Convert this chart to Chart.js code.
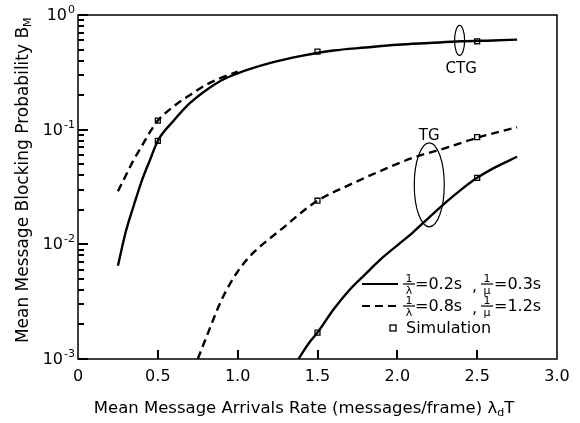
<!DOCTYPE html>
<html>
<head>
<meta charset="utf-8">
<script src="https://cdn.jsdelivr.net/npm/chart.js@4.4.1/dist/chart.umd.min.js"></script>
<style>
  html, body { margin: 0; padding: 0; background: #fff; }
  #wrap { width: 580px; height: 423px; }
</style>
</head>
<body>
<div id="wrap"><canvas id="chart" width="580" height="423"></canvas></div>
<script>
// CTG curves
const ctgSolidX = [0.25, 0.3, 0.35, 0.4, 0.45, 0.5, 0.6, 0.7, 0.8, 0.9, 1.0, 1.2, 1.4, 1.6, 1.8, 2.0, 2.2, 2.4, 2.6, 2.75];
const ctgSolidY = [0.0065, 0.013, 0.022, 0.036, 0.054, 0.08, 0.12, 0.17, 0.22, 0.27, 0.31, 0.38, 0.44, 0.49, 0.52, 0.55, 0.57, 0.59, 0.60, 0.61];
const ctgDashX = [0.25, 0.3, 0.35, 0.4, 0.45, 0.5, 0.6, 0.7, 0.8, 0.9, 1.0];
const ctgDashY = [0.029, 0.04, 0.055, 0.072, 0.095, 0.12, 0.16, 0.2, 0.245, 0.285, 0.32];
// TG curves
const tgDashX = [0.75, 0.8, 0.9, 1.0, 1.1, 1.2, 1.3, 1.4, 1.5, 1.7, 1.9, 2.1, 2.3, 2.5, 2.75];
const tgDashY = [0.001, 0.0015, 0.0033, 0.0058, 0.0085, 0.0112, 0.0145, 0.019, 0.024, 0.033, 0.044, 0.057, 0.069, 0.085, 0.105];
const tgSolidX = [1.38, 1.45, 1.5, 1.6, 1.7, 1.8, 1.9, 2.0, 2.1, 2.2, 2.3, 2.4, 2.5, 2.6, 2.75];
const tgSolidY = [0.001, 0.0014, 0.0017, 0.0027, 0.004, 0.0055, 0.0075, 0.0098, 0.0128, 0.0172, 0.023, 0.03, 0.038, 0.046, 0.058];
// simulation squares
const simX = [0.5, 0.5, 1.5, 2.5, 1.5, 2.5, 1.5, 2.5];
const simY = [0.08, 0.12, 0.48, 0.59, 0.024, 0.086, 0.0017, 0.038];
// axis ticks
const xTicks = [0, 0.5, 1.0, 1.5, 2.0, 2.5, 3.0];
const yMajor = [1, 0.1, 0.01, 0.001];
const yExp = ['0', '-1', '-2', '-3'];
const yMinorMantissa = [2, 3, 4, 5, 6, 7, 8, 9];

const FONT = '"DejaVu Sans", sans-serif';

function pts(xs, ys) {
  return xs.map((x, i) => ({ x: x, y: ys[i] }));
}

function lineSet(xs, ys, dashed) {
  return {
    data: pts(xs, ys),
    borderColor: '#000',
    borderWidth: 2.4,
    borderDash: dashed ? [8, 5] : [],
    pointRadius: 0,
    fill: false,
    tension: 0.4,
    cubicInterpolationMode: 'monotone'
  };
}

function fraction(ctx, x, y, den) {
  ctx.font = '11px ' + FONT;
  ctx.textAlign = 'center';
  ctx.textBaseline = 'alphabetic';
  ctx.fillText('1', x, y - 2);
  ctx.fillText(den, x, y + 10);
  ctx.beginPath();
  ctx.lineWidth = 1.2;
  ctx.moveTo(x - 6, y);
  ctx.lineTo(x + 6, y);
  ctx.stroke();
}

const decor = {
  id: 'decor',
  afterDraw(chart) {
    const ctx = chart.ctx;
    const a = chart.chartArea;
    const xs = chart.scales.x;
    const ys = chart.scales.y;
    ctx.save();
    ctx.setLineDash([]);
    ctx.strokeStyle = '#000';
    ctx.fillStyle = '#000';

    // frame
    ctx.lineWidth = 1.5;
    ctx.strokeRect(a.left, a.top, a.right - a.left, a.bottom - a.top);

    // y ticks (inside): majors then minors
    yMajor.forEach(v => {
      const py = Math.round(ys.getPixelForValue(v));
      ctx.fillRect(a.left, py - 1, 10, 2);
    });
    yMajor.slice(1).forEach(base => {
      yMinorMantissa.forEach(m => {
        const py = Math.round(ys.getPixelForValue(m * base));
        ctx.fillRect(a.left, py - 1, 6, 2);
      });
    });
    // x ticks (inside)
    xTicks.slice(1, -1).forEach(v => {
      const px = Math.round(xs.getPixelForValue(v));
      ctx.fillRect(px - 1, a.bottom - 9, 2, 9);
    });

    // y tick labels: 10 with exponent
    ctx.textBaseline = 'alphabetic';
    yMajor.forEach((v, i) => {
      const py = ys.getPixelForValue(v);
      ctx.font = '11px ' + FONT;
      ctx.textAlign = 'right';
      const ew = ctx.measureText(yExp[i]).width;
      ctx.fillText(yExp[i], 75, py - 2);
      ctx.font = '16px ' + FONT;
      ctx.fillText('10', 75 - ew - 1, py + 5);
    });

    // axis titles
    ctx.textAlign = 'left';
    ctx.font = '16.5px ' + FONT;
    const xt = 'Mean Message Arrivals Rate (messages/frame) ';
    const w1 = ctx.measureText(xt + 'λT').width + 7;
    let tx = 304 - w1 / 2;
    const ty = 413;
    ctx.fillText(xt + 'λ', tx, ty);
    tx += ctx.measureText(xt + 'λ').width;
    ctx.font = '11px ' + FONT;
    ctx.fillText('d', tx, ty + 3);
    tx += ctx.measureText('d').width;
    ctx.font = '16.5px ' + FONT;
    ctx.fillText('T', tx, ty);

    ctx.save();
    ctx.translate(28, 180);
    ctx.rotate(-Math.PI / 2);
    ctx.font = '17px ' + FONT;
    const yt = 'Mean Message Blocking Probability B';
    const tw = ctx.measureText(yt).width;
    ctx.fillText(yt, -(tw + 10) / 2, 0);
    ctx.font = '11px ' + FONT;
    ctx.fillText('M', -(tw + 10) / 2 + tw, 3);
    ctx.restore();

    // ellipses for CTG / TG
    ctx.lineWidth = 1.2;
    ctx.beginPath();
    ctx.ellipse(xs.getPixelForValue(2.39), ys.getPixelForValue(0.6), 5, 15, 0, 0, Math.PI * 2);
    ctx.stroke();
    ctx.beginPath();
    ctx.ellipse(xs.getPixelForValue(2.2), ys.getPixelForValue(0.033), 15, 42, 0, 0, Math.PI * 2);
    ctx.stroke();
    ctx.font = '15px ' + FONT;
    ctx.textAlign = 'center';
    ctx.textBaseline = 'middle';
    ctx.fillText('CTG', xs.getPixelForValue(2.4), 69);
    ctx.fillText('TG', xs.getPixelForValue(2.2), 136);

    // legend
    const lx0 = 362, lx1 = 398;
    const rows = [284, 306, 328];
    ctx.lineWidth = 2;
    ctx.beginPath();
    ctx.moveTo(lx0, rows[0]); ctx.lineTo(lx1, rows[0]); ctx.stroke();
    ctx.setLineDash([8, 5]);
    ctx.beginPath();
    ctx.moveTo(lx0, rows[1]); ctx.lineTo(lx1, rows[1]); ctx.stroke();
    ctx.setLineDash([]);
    const legendText = [['=0.2s', '=0.3s'], ['=0.8s', '=1.2s']];
    legendText.forEach((pair, i) => {
      const y = rows[i];
      fraction(ctx, 409, y, 'λ');
      ctx.font = '16px ' + FONT;
      ctx.textAlign = 'left';
      ctx.textBaseline = 'middle';
      ctx.fillText(pair[0], 415, y + 1);
      ctx.fillText(',', 472, y + 3);
      fraction(ctx, 487, y, 'μ');
      ctx.font = '16px ' + FONT;
      ctx.textAlign = 'left';
      ctx.textBaseline = 'middle';
      ctx.fillText(pair[1], 494, y + 1);
    });
    ctx.lineWidth = 1.3;
    ctx.fillStyle = '#fff';
    ctx.fillRect(390, rows[2] - 3, 6, 6);
    ctx.strokeRect(390, rows[2] - 3, 6, 6);
    ctx.fillStyle = '#000';
    ctx.font = '16px ' + FONT;
    ctx.textAlign = 'left';
    ctx.fillText('Simulation', 406, rows[2] + 1);

    ctx.restore();
  }
};

new Chart(document.getElementById('chart').getContext('2d'), {
  type: 'line',
  data: {
    datasets: [
      lineSet(ctgSolidX, ctgSolidY, false),
      lineSet(ctgDashX, ctgDashY, true),
      lineSet(tgDashX, tgDashY, true),
      lineSet(tgSolidX, tgSolidY, false),
      {
        data: pts(simX, simY),
        showLine: false,
        pointStyle: 'rect',
        pointRadius: 3.5,
        pointBorderWidth: 1.3,
        pointBorderColor: '#000',
        pointBackgroundColor: '#fff'
      }
    ]
  },
  options: {
    responsive: false,
    animation: false,
    layout: { padding: { top: 15, right: 23, left: 0, bottom: 0 } },
    plugins: { legend: { display: false }, tooltip: { enabled: false } },
    scales: {
      x: {
        type: 'linear',
        min: 0,
        max: 3,
        afterBuildTicks: s => { s.ticks = xTicks.map(v => ({ value: v })); },
        afterFit: s => { s.height = 64; },
        grid: { display: false },
        border: { display: false },
        ticks: {
          padding: 0,
          color: '#000',
          font: { family: FONT, size: 16 },
          callback: v => (v === 0 ? '0' : v.toFixed(1))
        }
      },
      y: {
        type: 'logarithmic',
        min: 0.001,
        max: 1,
        afterFit: s => { s.width = 78; },
        grid: { display: false },
        border: { display: false },
        ticks: { display: false }
      }
    }
  },
  plugins: [decor]
});
</script>
</body>
</html>
